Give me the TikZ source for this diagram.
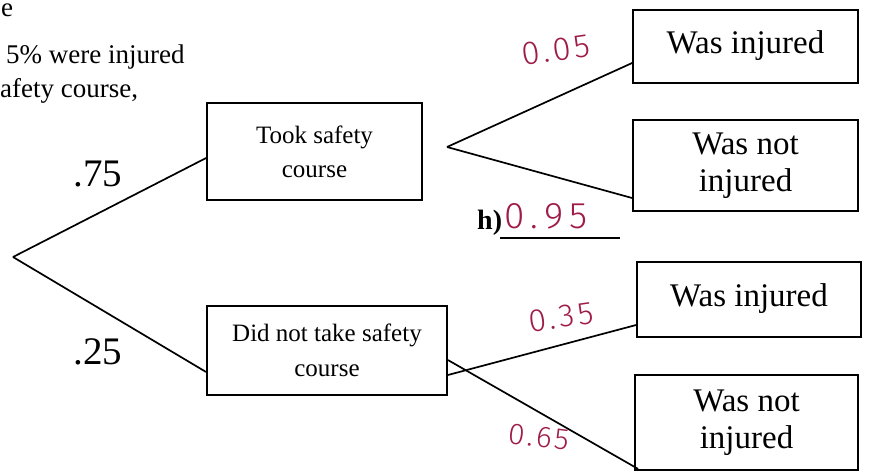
\documentclass[tikz,border=0pt]{standalone}
\usepackage{fontspec}
\setmainfont{Liberation Serif}
\newfontfamily\handfont[LetterSpace=10]{Fira Sans Light}
\definecolor{ink}{RGB}{158,28,70}
\begin{document}
\begin{tikzpicture}[x=1pt,y=-1pt,
  box/.style={draw,line width=1.8pt,inner sep=0pt,align=center},
  conn/.style={line width=1.7pt},
  hand/.style={text=ink,inner sep=0pt},
  prob/.style={font=\fontsize{39}{39}\selectfont,inner sep=0pt},
  head/.style={anchor=base west,inner sep=0pt,font=\fontsize{27}{27}\selectfont}]
\useasboundingbox (0,0) rectangle (869,475);
% header text
\node[head] (t1) at (1,16) {e};
\node[head] (t2) at (6,63) {5\% were injured};
\node[head] (t3) at (0,97) {afety course,};
% first level boxes
\node[box,minimum width=215pt,minimum height=97pt,font=\fontsize{25}{34}\selectfont] (took) at (314.5,151.5) {Took safety\\course};
\node[box,minimum width=240pt,minimum height=89pt,font=\fontsize{25}{35}\selectfont] (didnot) at (327,350.5) {Did not take safety\\course};
% second level boxes
\node[box,minimum width=225pt,minimum height=73pt,font=\fontsize{33}{37}\selectfont] (wi1) at (745.5,46.5) {\raisebox{8pt}{Was injured}};
\node[box,minimum width=225pt,minimum height=91pt,font=\fontsize{33}{37}\selectfont] (wn1) at (745.5,165.5) {Was not\\injured};
\node[box,minimum width=224pt,minimum height=75pt,font=\fontsize{33}{37}\selectfont] (wi2) at (749,299.5) {\raisebox{9pt}{Was injured}};
\node[box,minimum width=223pt,minimum height=95pt,font=\fontsize{33}{37}\selectfont] (wn2) at (746.5,422.5) {Was not\\injured};
% branch points
\coordinate (root) at (13,257);
\coordinate (fork) at (447,147);
% connectors
\draw[conn] (root) -- ([yshift=-6.5pt]took.west);
\draw[conn] (root) -- ([yshift=-21.5pt]didnot.west);
\draw[conn] (fork) -- ([yshift=-16.5pt]wi1.west);
\draw[conn] (fork) -- ([yshift=-32.5pt]wn1.west);
\draw[conn] ([yshift=-24.5pt]didnot.east) -- ([yshift=-25.5pt]wi2.west);
\draw[conn] ([yshift=-9.5pt]didnot.east) -- ([xshift=4pt,yshift=2pt]wn2.south west);
% probabilities
\node[prob] (p75) at (98,174) {.75};
\node[prob] (p25) at (98,352) {.25};
\node[hand,rotate=8,font=\handfont\fontsize{33}{33}\selectfont] (p05) at (556,50) {0.05};
\node[hand,rotate=8,font=\handfont\fontsize{32}{32}\selectfont] (p35) at (561,317) {0.35};
\node[hand,rotate=-7,font=\handfont\fontsize{30}{30}\selectfont] (p65) at (539,437) {0.65};
% answer h)
\node[anchor=base west,inner sep=0pt,font=\bfseries\fontsize{28}{28}\selectfont] (h) at (477,229) {h)};
\node[hand,anchor=base west,font=\handfont\addfontfeatures{LetterSpace=18}\fontsize{37}{37}\selectfont] (p95) at (504,228) {0.95};
\coordinate (ul1) at (500,238);
\coordinate (ul2) at (620,238);
\draw[line width=1.6pt] (ul1) -- (ul2);
\end{tikzpicture}
\end{document}
